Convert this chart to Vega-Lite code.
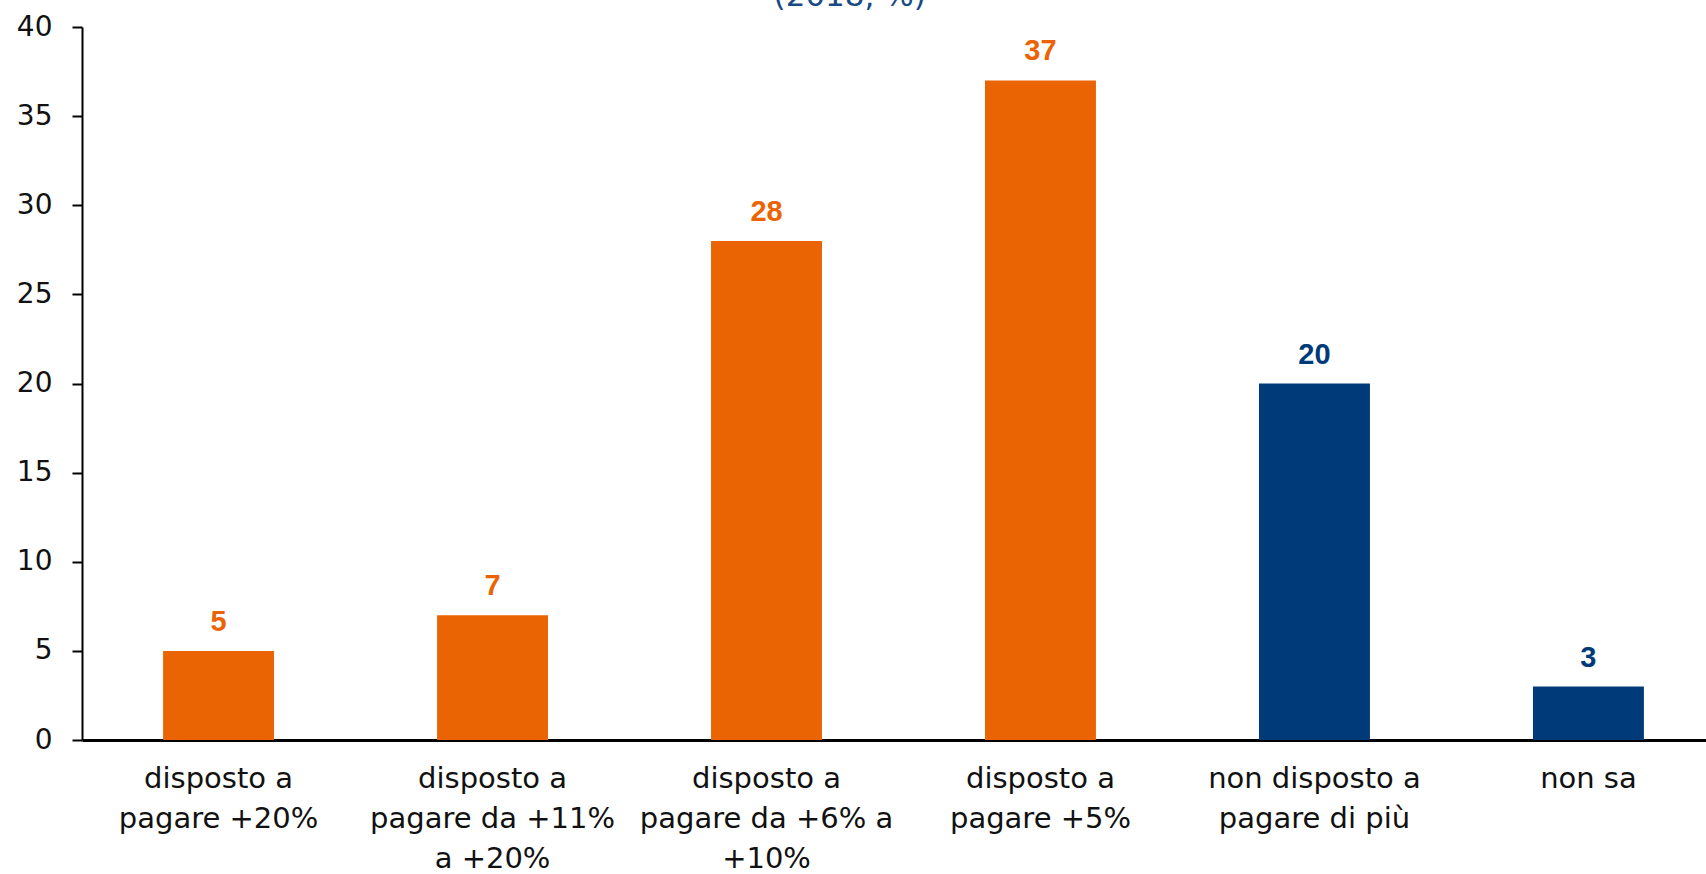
{
  "$schema": "https://vega.github.io/schema/vega-lite/v6.json",
  "autosize": {"type": "none"},
  "width": 1624,
  "height": 713,
  "padding": {"left": 82, "top": 27, "right": 0, "bottom": 134},
  "background": "white",
  "title": {
    "text": "(2018, %)",
    "anchor": "middle",
    "frame": "bounds",
    "baseline": "alphabetic",
    "offset": 5,
    "dy": 29,
    "dx": -21,
    "font": "DejaVu Sans",
    "fontSize": 31,
    "fontWeight": "normal",
    "color": "#1A4A85"
  },
  "data": {
    "values": [
      {"categoria": "disposto a|pagare +20%", "valore": 5, "gruppo": "disposto"},
      {"categoria": "disposto a|pagare da +11%|a +20%", "valore": 7, "gruppo": "disposto"},
      {"categoria": "disposto a|pagare da +6% a|+10%", "valore": 28, "gruppo": "disposto"},
      {"categoria": "disposto a|pagare +5%", "valore": 37, "gruppo": "disposto"},
      {"categoria": "non disposto a|pagare di più", "valore": 20, "gruppo": "non disposto"},
      {"categoria": "non sa", "valore": 3, "gruppo": "non disposto"}
    ]
  },
  "encoding": {
    "x": {
      "field": "categoria",
      "type": "nominal",
      "sort": null,
      "scale": {"paddingInner": 0.595, "paddingOuter": 0.296, "range": [0, 1643]},
      "axis": {
        "title": null,
        "labelAngle": 0,
        "labelExpr": "split(datum.label, '|')",
        "labelFont": "DejaVu Sans",
        "labelFontSize": 29,
        "labelColor": "#111111",
        "labelLineHeight": 40,
        "labelPadding": 24,
        "labelBaseline": "top",
        "ticks": false,
        "domainColor": "#000000",
        "domainWidth": 3,
        "labelLimit": 400
      }
    },
    "y": {
      "field": "valore",
      "type": "quantitative",
      "scale": {"domain": [0, 40]},
      "axis": {
        "title": null,
        "values": [0, 5, 10, 15, 20, 25, 30, 35, 40],
        "grid": false,
        "labelFont": "DejaVu Sans",
        "labelFontSize": 28,
        "labelColor": "#111111",
        "labelPadding": 20,
        "tickSize": 10,
        "tickColor": "#000000",
        "tickWidth": 2,
        "domainColor": "#000000",
        "domainWidth": 2
      }
    },
    "color": {
      "field": "gruppo",
      "type": "nominal",
      "scale": {"domain": ["disposto", "non disposto"], "range": ["#EB6403", "#003A78"]},
      "legend": null
    }
  },
  "layer": [
    {"mark": {"type": "bar"}},
    {
      "mark": {"type": "text", "baseline": "bottom", "dy": -14, "font": "Liberation Sans", "fontSize": 29, "fontWeight": "bold"},
      "encoding": {"text": {"field": "valore", "type": "quantitative"}}
    }
  ],
  "config": {"view": {"stroke": null}}
}
